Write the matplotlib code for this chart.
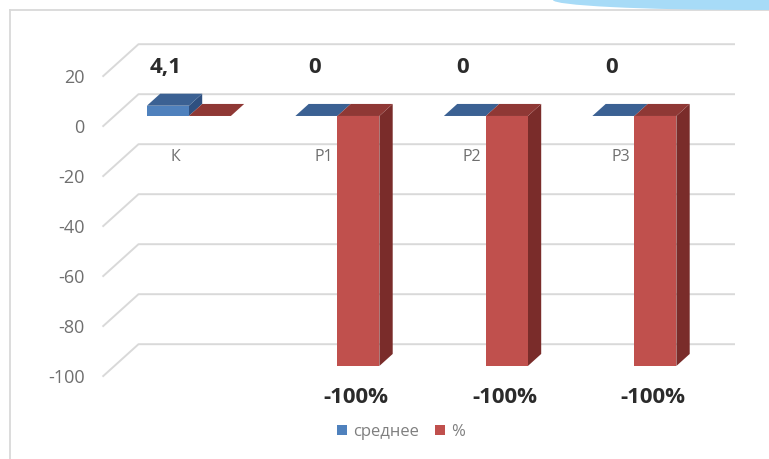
import matplotlib
matplotlib.use("Agg")
import matplotlib.pyplot as plt
from matplotlib.patches import Polygon, Ellipse, Patch
from matplotlib.lines import Line2D

plt.rcParams['font.family'] = ['Open Sans', 'DejaVu Sans']

# ---- data ----
categories = ["К", "Р1", "Р2", "Р3"]
mean_values = [4.1, 0, 0, 0]
pct_values = [0, -100, -100, -100]
series_names = ["среднее", "%"]
y_ticks = [20, 0, -20, -40, -60, -80, -100]

# ---- colours ----
BLUE = dict(front="#4f81bd", top="#3b6193", side="#2f5080")
RED = dict(front="#c0504d", top="#8f3835", side="#7a2c2a")
GRID = "#d9d9d9"
TICK_COLOR = "#6f6f6f"
LABEL_COLOR = "#2b2b2b"

W, H = 769, 459
fig = plt.figure(figsize=(W / 100, H / 100), dpi=100)
ax = fig.add_axes([0, 0, 1, 1])

# axes scale: x in category units, y in value units
X0, XS = 177.0, 148.5      # pixel of category 0 at the front wall, pixels per category
Y0, YS = 126.7, 2.5        # pixel of value 0 at the front wall, pixels per unit
ax.set_xlim(-X0 / XS, (W - X0) / XS)
ax.set_ylim((Y0 - H) / YS, Y0 / YS)
ax.axis("off")

# oblique depth direction (full wall depth = 1)
DX = 36.0 / XS
DY = 32.5 / YS


def P(x, v, d):
    return (x + d * DX, v + d * DY)


# ---- walls and gridlines ----
x_wall = (102.5 - X0) / XS
x_end = (735.0 - X0) / XS - DX
for v in y_ticks:
    pts = [P(x_wall, v, 0), P(x_wall, v, 1), P(x_end, v, 1)]
    ax.plot([p[0] for p in pts], [p[1] for p in pts], color=GRID, lw=1.4,
            solid_capstyle="butt", zorder=1)
    ax.text(x_wall - 18 / XS, v - 0.5, f"{v}", ha="right", va="center",
            fontsize=13, color=TICK_COLOR, zorder=2)

# ---- bars ----
D0, DD = 0.33, 0.37          # bar front depth and bar thickness
BW = 42.0 / XS               # bar width


def draw_bar(x0, x1, v, col):
    d1 = D0 + DD
    top = max(v, 0)
    if v != 0:
        side = [P(x1, 0, D0), P(x1, v, D0), P(x1, v, d1), P(x1, 0, d1)]
        ax.add_patch(Polygon(side, closed=True, fc=col["side"], ec="none", zorder=4))
        front = [P(x0, 0, D0), P(x1, 0, D0), P(x1, v, D0), P(x0, v, D0)]
        ax.add_patch(Polygon(front, closed=True, fc=col["front"], ec="none", zorder=4))
    topf = [P(x0, top, D0), P(x1, top, D0), P(x1, top, d1), P(x0, top, d1)]
    ax.add_patch(Polygon(topf, closed=True, fc=col["top"], ec="none", zorder=4))


for i, cat in enumerate(categories):
    # category label
    ax.text(i - 0.012, -12.1, cat, ha="center", va="center", fontsize=11.5,
            color=TICK_COLOR, zorder=3)
    draw_bar(i - BW, i, mean_values[i], BLUE)
    draw_bar(i, i + BW, pct_values[i], RED)

    # value labels
    mv = mean_values[i]
    ax.text(i - BW / 2 + D0 * DX - 0.015, 23.5, f"{mv:g}".replace(".", ","),
            ha="center", va="center", fontsize=16, fontweight="bold",
            color=LABEL_COLOR, zorder=6)
    pv = pct_values[i]
    if pv != 0:
        ax.text(i + BW / 2 + D0 * DX - 0.015, -108.5, f"{pv:.0f}%",
                ha="center", va="center", fontsize=16, fontweight="bold",
                color=LABEL_COLOR, zorder=6)

# ---- legend ----
handles = [Patch(fc=BLUE["front"], ec="none"), Patch(fc=RED["front"], ec="none")]
ax.legend(handles, series_names, loc="center",
          bbox_to_anchor=(401 / W, 1 - 432 / H), bbox_transform=fig.transFigure,
          ncol=2, frameon=False, fontsize=12, labelcolor="#7f7f7f",
          handlelength=0.6, handleheight=0.6, handletextpad=0.35,
          columnspacing=1.0, borderpad=0)

# ---- frame and decoration ----
fig.add_artist(Line2D([10 / W, 10 / W], [0, 1 - 10 / H], transform=fig.transFigure,
                      color=GRID, lw=1.3))
fig.add_artist(Line2D([10 / W, 1], [1 - 10 / H, 1 - 10 / H], transform=fig.transFigure,
                      color=GRID, lw=1.3))
fig.add_artist(Ellipse((753 / W, 1), 400 / W, 20 / H, transform=fig.transFigure,
                       fc="#a7dbf7", ec="none", zorder=10))

fig.savefig("out.png", dpi=100)
